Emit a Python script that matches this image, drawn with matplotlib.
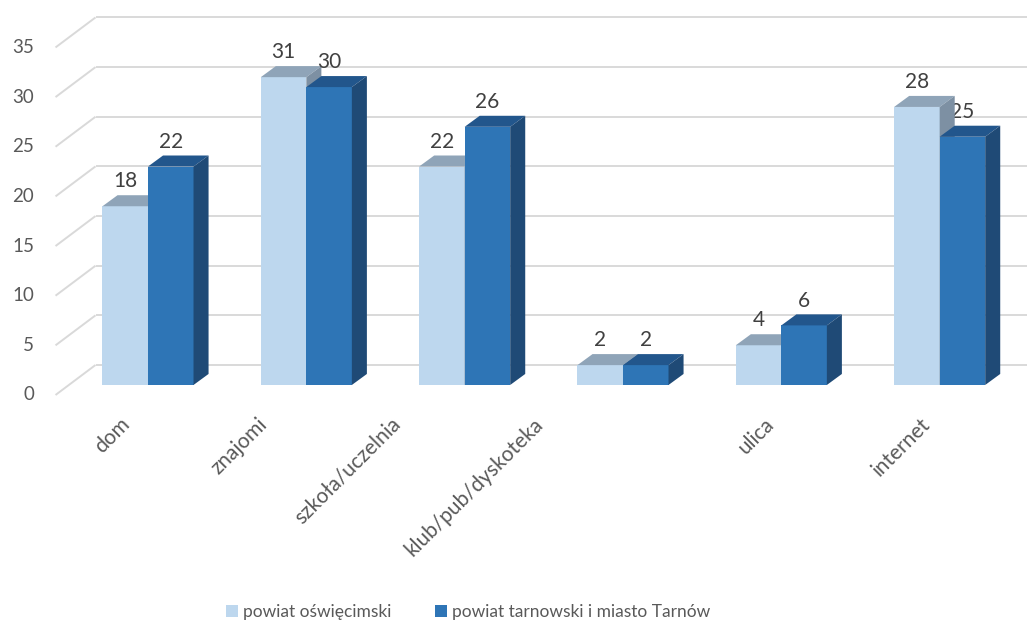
import numpy as np
import matplotlib
matplotlib.use("Agg")
from matplotlib import pyplot as plt
from matplotlib.patches import Polygon, Patch

categories = ["dom", "znajomi", "szkoła/uczelnia", "klub/pub/dyskoteka", "ulica", "internet"]
series_names = ["powiat oświęcimski", "powiat tarnowski i miasto Tarnów"]
oswiecim = [18, 31, 22, 2, 4, 28]
tarnow = [22, 30, 26, 2, 6, 25]
y_ticks = [0, 5, 10, 15, 20, 25, 30, 35]

# horizontal nudge of each rotated category label (category units), as in the original layout
label_shift = [-0.18, -0.31, -0.47, -0.57, -0.11, -0.125]

plt.rcParams['font.family'] = ['Lato', 'DejaVu Sans']

# colours: front, top, side
styles = [
    ("#BDD7EE", "#8FA4B8", "#7D90A3"),
    ("#2E75B6", "#22568C", "#1F4A76"),
]

fig = plt.figure(figsize=(10.27, 6.23), dpi=100)
ax = fig.add_axes([0, 0, 1, 1])
ax.set_xlim(-0.9347, 5.5516)
ax.set_ylim(-23.97, 38.77)
ax.axis("off")

# fake 3d depth in data units (x in categories, y in values)
bar_w = 0.2875
dep_x, dep_y = 0.095, 1.11          # bar depth
front_x, front_y = -0.084, -1.007   # floor front edge relative to bar front
back_x, back_y = 0.1686, 2.014      # back wall relative to bar front

grid_col = "#D9D9D9"
left = -0.5
for v in y_ticks:
    ax.plot([left + front_x, left + back_x], [v + front_y, v + back_y],
            color=grid_col, lw=1.4, zorder=0, solid_capstyle="butt")
    ax.plot([left + back_x, 5.6], [v + back_y, v + back_y],
            color=grid_col, lw=1.4, zorder=0, solid_capstyle="butt")
    ax.text(left - 0.22, v + front_y, str(v), ha="right", va="center",
            fontsize=13.5, color="#595959")


def draw_bar(x0, h, cols, z):
    front, top, side = cols
    x1 = x0 + bar_w
    ax.add_patch(Polygon([(x0, 0), (x1, 0), (x1, h), (x0, h)], closed=True,
                         facecolor=front, edgecolor="none", zorder=z))
    ax.add_patch(Polygon([(x0, h), (x1, h), (x1 + dep_x, h + dep_y), (x0 + dep_x, h + dep_y)],
                         closed=True, facecolor=top, edgecolor="none", zorder=z))
    ax.add_patch(Polygon([(x1, 0), (x1 + dep_x, dep_y), (x1 + dep_x, h + dep_y), (x1, h)],
                         closed=True, facecolor=side, edgecolor="none", zorder=z))
    ax.text(x0 + bar_w / 2, h + 2.5, str(h), ha="center", va="center",
            fontsize=15, color="#404040", zorder=10)


for i in range(len(categories)):
    draw_bar(i - bar_w, oswiecim[i], styles[0], 2 + 2 * i)
    draw_bar(i, tarnow[i], styles[1], 3 + 2 * i)

for i, name in enumerate(categories):
    ax.text(i + label_shift[i], -2.9, name, ha="right", va="top", rotation=45,
            rotation_mode="anchor", fontsize=15, color="#595959")

handles = [Patch(facecolor=styles[0][0]), Patch(facecolor=styles[1][0])]
fig.legend(handles, series_names, loc="center", bbox_to_anchor=(0.456, 1 - 612 / 623),
           ncol=2, frameon=False, fontsize=12.5, handlelength=0.7, handleheight=0.7,
           handletextpad=0.3, columnspacing=2.5, labelcolor="#595959")

fig.savefig("out.png", dpi=100)
